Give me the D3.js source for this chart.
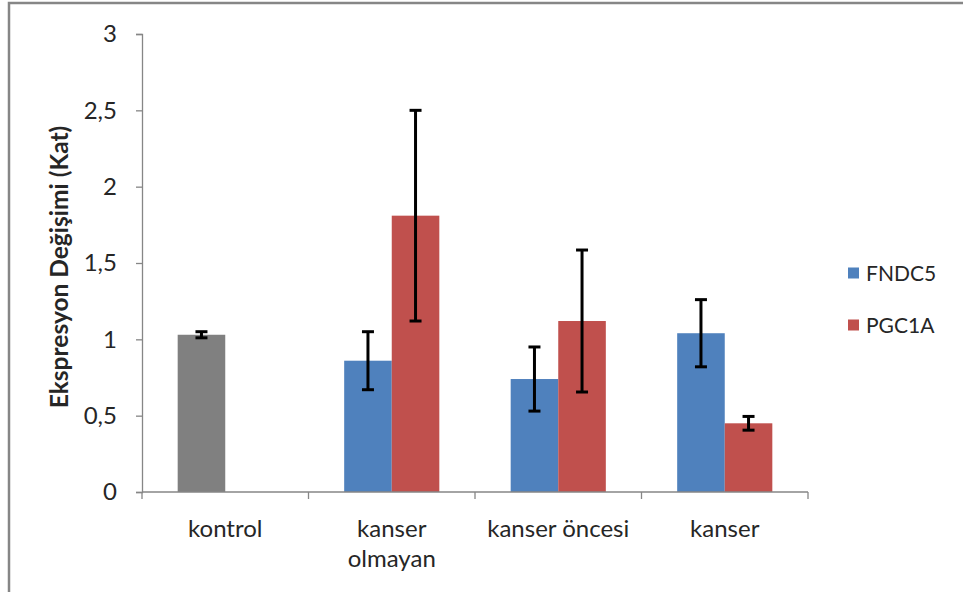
<!DOCTYPE html>
<html>
<head>
<meta charset="utf-8">
<script src="https://cdn.jsdelivr.net/npm/d3@7"></script>
<style>
  html, body { margin: 0; padding: 0; background: #fff; }
  svg { display: block; }
  text { font-family: Lato, "Open Sans", sans-serif; fill: #262626; }
</style>
</head>
<body>
<svg id="chart" width="963" height="592"></svg>
<script>
// Groups on the x axis (second line of a label after "\n")
const categories = ["kontrol", "kanser\nolmayan", "kanser öncesi", "kanser"];
const series = ["FNDC5", "PGC1A"];
// Mean fold change per group; null where a series has no bar
const fndc5Values = [1.03, 0.86, 0.74, 1.04];
const pgc1aValues = [null, 1.81, 1.12, 0.45];
// Error bar half-widths
const fndc5Errors = [0.02, 0.19, 0.21, 0.22];
const pgc1aErrors = [null, 0.69, 0.465, 0.045];
const yTicks = [0, 0.5, 1, 1.5, 2, 2.5, 3];
const yTitle = "Ekspresyon Değişimi (Kat)";

const colors = { FNDC5: "#4f81bd", PGC1A: "#c0504d", control: "#808080" };
const axisColor = "#868686";

const svg = d3.select("#chart");

// outer frame (left and top edges show)
svg.append("rect")
  .attr("x", 9).attr("y", 3)
  .attr("width", 1000).attr("height", 650)
  .attr("fill", "none").attr("stroke", axisColor).attr("stroke-width", 2.5);

const plot = { left: 142, right: 808, top: 34, bottom: 492 };

const x = d3.scaleBand().domain(categories).range([plot.left, plot.right]).padding(0);
const xSub = d3.scaleBand().domain(series).range([0, x.bandwidth()])
  .paddingInner(0).paddingOuter(0.75);
const y = d3.scaleLinear().domain([0, 3]).range([plot.bottom, plot.top]);

const rows = [];
categories.forEach((c, i) => {
  rows.push({ cat: c, s: "FNDC5", v: fndc5Values[i], e: fndc5Errors[i], control: i === 0 });
  rows.push({ cat: c, s: "PGC1A", v: pgc1aValues[i], e: pgc1aErrors[i], control: false });
});
const bars = rows.filter(d => d.v != null);

// y axis
const yAxis = svg.append("g")
  .attr("transform", `translate(${plot.left},0)`)
  .call(d3.axisLeft(y).tickValues(yTicks).tickSize(6).tickPadding(19)
    .tickFormat(d => String(d).replace(".", ",")));
yAxis.select(".domain").attr("stroke", axisColor).attr("stroke-width", 1.3);
yAxis.selectAll(".tick line").attr("stroke", axisColor).attr("stroke-width", 1.3);
yAxis.selectAll(".tick text")
  .attr("font-family", "Lato, sans-serif").attr("font-size", 24).attr("fill", "#262626");

// bars
svg.append("g").selectAll("rect").data(bars).join("rect")
  .attr("x", d => x(d.cat) + xSub(d.s))
  .attr("width", xSub.bandwidth())
  .attr("y", d => y(d.v))
  .attr("height", d => y(0) - y(d.v))
  .attr("fill", d => d.control ? colors.control : colors[d.s]);

// x axis with ticks at group boundaries
const xg = svg.append("g");
xg.append("line")
  .attr("x1", plot.left).attr("x2", plot.right)
  .attr("y1", plot.bottom).attr("y2", plot.bottom)
  .attr("stroke", axisColor).attr("stroke-width", 1.3);
const bounds = categories.map(c => x(c)).concat([plot.right]);
xg.selectAll("line.tk").data(bounds).join("line")
  .attr("class", "tk")
  .attr("x1", d => d).attr("x2", d => d)
  .attr("y1", plot.bottom).attr("y2", plot.bottom + 7)
  .attr("stroke", axisColor).attr("stroke-width", 1.3);
xg.selectAll("text").data(categories).join("text")
  .attr("x", d => x(d) + x.bandwidth() / 2)
  .attr("y", 537)
  .attr("text-anchor", "middle")
  .attr("font-size", 24)
  .each(function (d) {
    const t = d3.select(this);
    d.split("\n").forEach((line, i) => {
      t.append("tspan")
        .attr("x", x(d) + x.bandwidth() / 2)
        .attr("dy", i === 0 ? 0 : 30)
        .text(line);
    });
  });

// error bars
const err = svg.append("g").attr("stroke", "#000").attr("stroke-width", 3);
bars.forEach(d => {
  const cx = x(d.cat) + xSub(d.s) + xSub.bandwidth() / 2;
  const y1 = y(d.v + d.e), y2 = y(d.v - d.e);
  err.append("line").attr("x1", cx).attr("x2", cx).attr("y1", y1).attr("y2", y2);
  err.append("line").attr("x1", cx - 6).attr("x2", cx + 6).attr("y1", y1).attr("y2", y1);
  err.append("line").attr("x1", cx - 6).attr("x2", cx + 6).attr("y1", y2).attr("y2", y2);
});

// y axis title
svg.append("text")
  .attr("transform", "translate(68,267) rotate(-90)")
  .attr("text-anchor", "middle")
  .attr("font-size", 24.5)
  .attr("font-weight", "bold")
  .attr("fill", "#000")
  .text(yTitle);

// legend
const legend = svg.append("g");
series.forEach((s, i) => {
  const cy = 273 + i * 52;
  legend.append("rect")
    .attr("x", 848).attr("y", cy - 5.5)
    .attr("width", 11).attr("height", 11)
    .attr("fill", colors[s]);
  legend.append("text")
    .attr("x", 866).attr("y", cy + 8)
    .attr("font-size", 21)
    .text(s);
});
</script>
</body>
</html>
